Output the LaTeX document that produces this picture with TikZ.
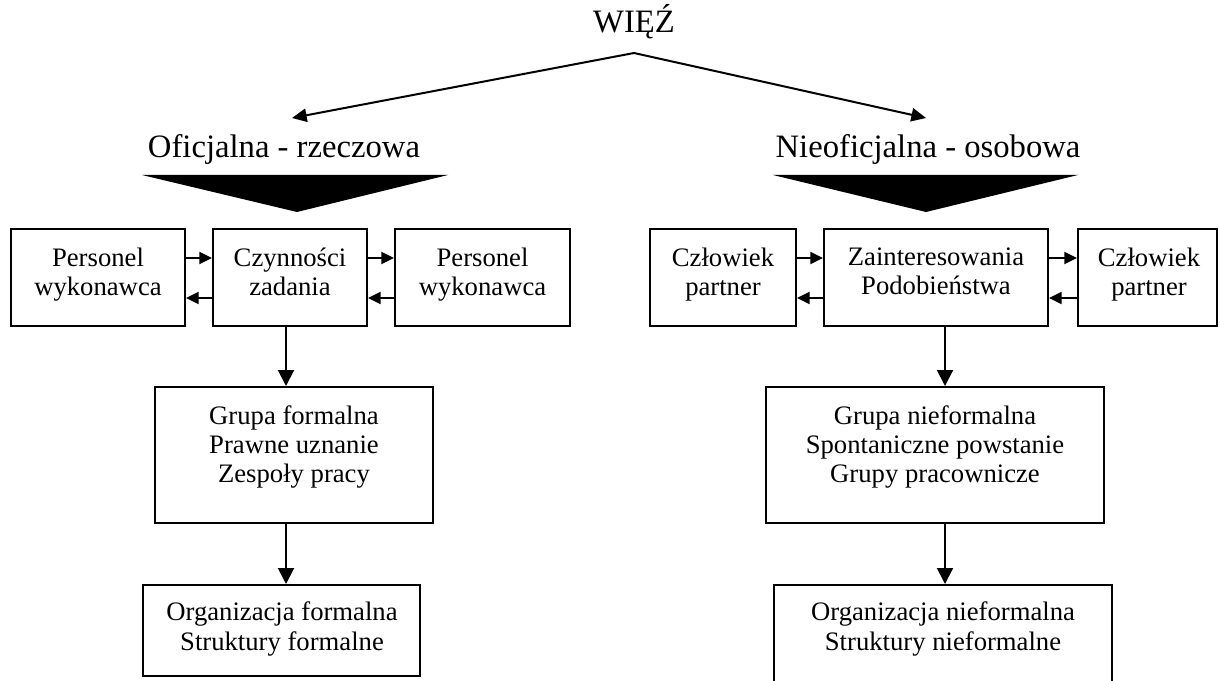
\documentclass[tikz,border=0pt]{standalone}
\usepackage{fontspec}
\setmainfont{Liberation Serif}
\usetikzlibrary{arrows.meta,fit}
\begin{document}
\begin{tikzpicture}[x=0.75pt,y=-0.75pt,
  box/.style={draw,line width=1.5pt,inner sep=0pt},
  txt/.style={align=center,font=\fontsize{20}{22}\selectfont,text depth=0pt,inner sep=0pt},
  head/.style={font=\fontsize{24.5}{28}\selectfont,inner sep=0pt,anchor=base},
  arr/.style={line width=1.5pt,-{Triangle[length=9.5pt,width=9pt]}},
  varr/.style={line width=1.5pt,-{Triangle[length=12pt,width=12pt]}},
  tarr/.style={line width=1.5pt,-{Triangle[length=11pt,width=10pt]}},
  wedge/.style={fill=black}]
\fill[white] (0,0) rectangle (1220,681);
\useasboundingbox (0,0) rectangle (1220,681);
\clip (0,0) rectangle (1220,681);

% headings
\node[head] (wiez)  at (634,33)  {WIĘŹ};
\node[head] (ofic)  at (284,158) {Oficjalna - rzeczowa};
\node[head] (nieof) at (928,158) {Nieoficjalna - osobowa};

\coordinate (apex) at (634,53);
\coordinate (lt) at (292,118);
\coordinate (rt) at (926,118);
\draw[tarr] (apex) -- (lt);
\draw[tarr] (apex) -- (rt);

% wedges under the headings
\fill[wedge] (142,175) -- (448,175) -- (297,212) -- cycle;
\fill[wedge] (773,175) -- (1078,175) -- (926,212) -- cycle;

% first row
\node[box,fit={(11,229)(185,326)}]   (p1) {};
\node[box,fit={(213,229)(367,326)}]  (cz) {};
\node[box,fit={(395,229)(570,326)}]  (p2) {};
\node[box,fit={(650,229)(796,326)}]  (c1) {};
\node[box,fit={(824,229)(1048,326)}] (zp) {};
\node[box,fit={(1078,229)(1217,326)}] (c2) {};

\node[txt] (p1t) at (98,271.5)   {Personel\\wykonawca};
\node[txt] (czt) at (290,271.5)  {Czynności\\zadania};
\node[txt] (p2t) at (482.5,271.5){Personel\\wykonawca};
\node[txt] (c1t) at (723,271.5)  {Człowiek\\partner};
\node[txt] (zpt) at (936,271.5)  {Zainteresowania\\Podobieństwa};
\node[txt] (c2t) at (1149,271.5) {Człowiek\\partner};

% second row
\node[box,fit={(155,387)(433,523)}]  (g1) {};
\node[box,fit={(766,387)(1104,523)}] (g2) {};
\node[txt] (g1t) at (294,444) {Grupa formalna\\Prawne uznanie\\Zespoły pracy};
\node[txt] (g2t) at (935,444) {Grupa nieformalna\\Spontaniczne powstanie\\Grupy pracownicze};

% third row (the right box runs past the lower edge)
\node[box,fit={(143,585)(420,676)}]  (o1) {};
\node[box,fit={(774,585)(1112,690)}] (o2) {};
\node[txt] (o1t) at (282,626) {Organizacja formalna\\Struktury formalne};
\node[txt] (o2t) at (943,626) {Organizacja nieformalna\\Struktury nieformalne};

% helper levels for the connectors
\coordinate (ya) at (0,258);
\coordinate (yb) at (0,298);
\coordinate (lx) at (286,0);
\coordinate (rx) at (945,0);

% horizontal exchanges
\draw[arr] (p1.east|-ya) -- (cz.west|-ya);
\draw[arr] (cz.west|-yb) -- (p1.east|-yb);
\draw[arr] (cz.east|-ya) -- (p2.west|-ya);
\draw[arr] (p2.west|-yb) -- (cz.east|-yb);
\draw[arr] (c1.east|-ya) -- (zp.west|-ya);
\draw[arr] (zp.west|-yb) -- (c1.east|-yb);
\draw[arr] (zp.east|-ya) -- (c2.west|-ya);
\draw[arr] (c2.west|-yb) -- (zp.east|-yb);

% vertical flow
\draw[varr] (cz.south-|lx) -- (g1.north-|lx);
\draw[varr] (g1.south-|lx) -- (o1.north-|lx);
\draw[varr] (zp.south-|rx) -- (g2.north-|rx);
\draw[varr] (g2.south-|rx) -- (o2.north-|rx);
\end{tikzpicture}
\end{document}
